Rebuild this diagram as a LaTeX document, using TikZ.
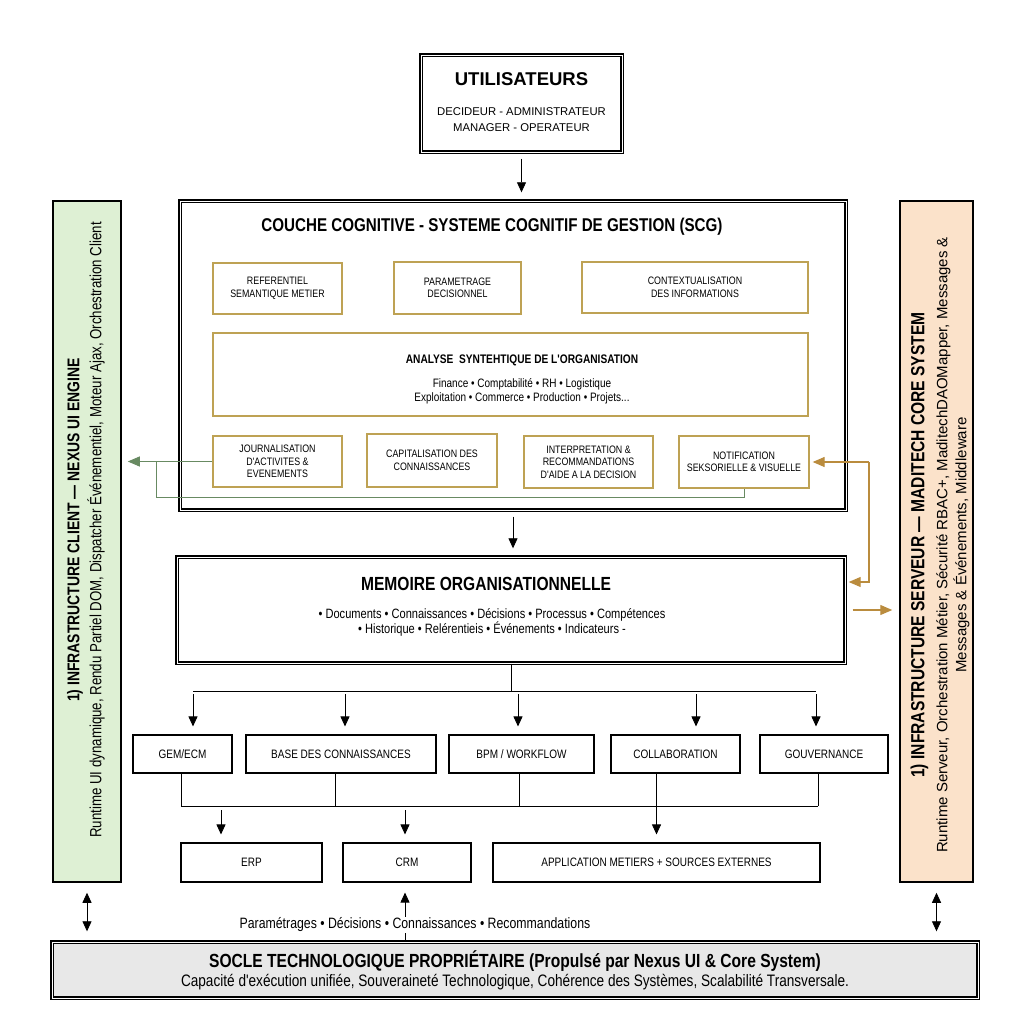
\documentclass[tikz,border=0pt]{standalone}
\usepackage{fontspec}
\setmainfont{Liberation Sans}
\newfontfamily\condfont{Liberation Sans}[FakeStretch=0.82]
\usetikzlibrary{arrows.meta, positioning, calc}
\definecolor{goldline}{RGB}{190,162,84}
\definecolor{greenline}{RGB}{104,138,98}
\definecolor{brownline}{RGB}{186,140,62}
\definecolor{clientfill}{RGB}{222,240,212}
\definecolor{serverfill}{RGB}{251,226,202}
\definecolor{soclefill}{RGB}{232,232,232}
\newcommand{\fsz}[2]{\fontsize{#1}{#2}\selectfont}

\begin{document}
\begin{tikzpicture}[x=1pt,y=-1pt]
		\tikzstyle{heavy} = [rectangle, draw=black, line width=1.4pt, double, double distance=0.9pt]
		\tikzstyle{goldbox} = [rectangle, draw=goldline, line width=1.3pt, align=center, font=\condfont\fsz{10.8}{12.5}]
		\tikzstyle{rowbox} = [rectangle, draw=black, line width=1.1pt, align=center, font=\condfont\fsz{12.2}{14}]
		\tikzstyle{bar} = [rectangle, draw=black, line width=1.5pt]
		\tikzstyle{arrow} = [line width=0.8pt, -{Triangle[width=9pt,length=10pt]}, shorten >=8pt]
		\tikzstyle{dblarrow} = [line width=0.8pt, {Triangle[width=9pt,length=10pt]}-{Triangle[width=9pt,length=10pt]}, shorten >=10pt, shorten <=10pt]
		\tikzstyle{garrow} = [greenline, line width=1pt, -{Triangle[width=10pt,length=12pt]}]
		\tikzstyle{gline} = [greenline, line width=1pt]
		\tikzstyle{oarrow} = [brownline, line width=1.1pt, -{Triangle[width=10pt,length=12pt]}]
		
		\useasboundingbox (0,0) rectangle (1024,1024);
		
		% users
		\node (users) [heavy, minimum width=201pt, minimum height=97pt] at (521.5,103.5) {};
		\node (userstitle) [font=\bfseries\fsz{18.5}{21}] at (521.5,79) {UTILISATEURS};
		\node (userstext) [align=center, font=\fsz{11.3}{16}] at (521.5,120) {DECIDEUR - ADMINISTRATEUR\\MANAGER - OPERATEUR};
		
		% couche cognitive
		\node (cog) [heavy, minimum width=666pt, minimum height=309pt] at (513,355.5) {};
		\node (cogtitle) [font=\condfont\bfseries\fsz{18.5}{21}] at (492,227) {COUCHE COGNITIVE - SYSTEME COGNITIF DE GESTION (SCG)};
		\node (ref) [goldbox, minimum width=129pt, minimum height=51pt] at (277.5,288.5) {REFERENTIEL\\SEMANTIQUE METIER};
		\node (param) [goldbox, minimum width=127pt, minimum height=52pt] at (457.5,288) {PARAMETRAGE\\DECISIONNEL};
		\node (ctx) [goldbox, minimum width=226pt, minimum height=51pt] at (695,287.5) {CONTEXTUALISATION\\DES INFORMATIONS};
		\node (analyse) [goldbox, minimum width=595pt, minimum height=83pt] at (510.5,374.5) {};
		\node (analysetitle) [font=\condfont\bfseries\fsz{12.4}{14}] at (522,360) {ANALYSE\ \ SYNTEHTIQUE DE L'ORGANISATION};
		\node (analysetext) [align=center, font=\condfont\fsz{12.2}{13.5}] at (522,391.5) {Finance • Comptabilité • RH • Logistique\\Exploitation • Commerce • Production • Projets...};
		\node (journ) [goldbox, minimum width=129pt, minimum height=51pt] at (277.5,461.5) {JOURNALISATION\\D'ACTIVITES \&\\EVENEMENTS};
		\node (capit) [goldbox, minimum width=130pt, minimum height=53pt] at (432,460.5) {CAPITALISATION DES\\CONNAISSANCES};
		\node (interp) [goldbox, minimum width=129pt, minimum height=52pt] at (588.5,462) {INTERPRETATION \&\\RECOMMANDATIONS\\D'AIDE A LA DECISION};
		\node (notif) [goldbox, minimum width=130pt, minimum height=52pt] at (744,462) {NOTIFICATION\\SEKSORIELLE \& VISUELLE};
		
		% memoire
		\node (memory) [heavy, minimum width=668pt, minimum height=106pt] at (511,610) {};
		\node (memtitle) [font=\condfont\bfseries\fsz{19}{22}] at (486,584) {MEMOIRE ORGANISATIONNELLE};
		\node (memtext) [align=center, font=\condfont\fsz{13.5}{15}] at (492,622) {• Documents • Connaissances • Décisions • Processus • Compétences\\• Historique • Relérentieis • Événements • Indicateurs -};
		
		% outils
		\node (gem) [rowbox, minimum width=99pt, minimum height=38pt] at (182.5,754) {GEM/ECM};
		\node (base) [rowbox, minimum width=190pt, minimum height=38pt] at (341,754) {BASE DES CONNAISSANCES};
		\node (bpm) [rowbox, minimum width=145pt, minimum height=38pt] at (521.5,754) {BPM / WORKFLOW};
		\node (collab) [rowbox, minimum width=129pt, minimum height=38pt] at (675.5,754) {COLLABORATION};
		\node (gouv) [rowbox, minimum width=128pt, minimum height=38pt] at (824,754) {GOUVERNANCE};
		
		\node (erp) [rowbox, minimum width=141pt, minimum height=39pt] at (251.5,862.5) {ERP};
		\node (crm) [rowbox, minimum width=128pt, minimum height=39pt] at (407,862.5) {CRM};
		\node (app) [rowbox, minimum width=327pt, minimum height=39pt] at (656.5,862.5) {APPLICATION METIERS + SOURCES EXTERNES};
		
		% socle
		\node (socle) [heavy, fill=soclefill, minimum width=926pt, minimum height=56pt] at (515,970) {};
		\node (socletitle) [font=\condfont\bfseries\fsz{19}{22}] at (515,961) {SOCLE TECHNOLOGIQUE PROPRIÉTAIRE (Propulsé par Nexus UI \& Core System)};
		\node (sockletext) [font=\condfont\fsz{16.6}{19}] at (515,982) {Capacité d'exécution unifiée, Souveraineté Technologique, Cohérence des Systèmes, Scalabilité Transversale.};
		
		% barres laterales
		\node (clientbar) [bar, fill=clientfill, minimum width=68pt, minimum height=681pt] at (87,541.5) {};
		\node (clienttext) [rotate=90, align=center, font=\condfont\fsz{16.2}{22}] at (86,530) {{\bfseries\fsz{17}{22}1) INFRASTRUCTURE CLIENT — NEXUS UI ENGINE}\\Runtime UI dynamique, Rendu Partiel DOM, Dispatcher Événementiel, Moteur Ajax, Orchestration Client};
		\node (serverbar) [bar, fill=serverfill, minimum width=73pt, minimum height=681pt] at (936.5,541.5) {};
		\node (servertext) [rotate=90, align=center, font=\fsz{15}{19}] at (940,545) {{\condfont\bfseries\fsz{19}{19}1) INFRASTRUCTURE SERVEUR — MADITECH CORE SYSTEM}\\[4pt]Runtime Serveur, Orchestration Métier, Sécurité RBAC+, MaditechDAOMapper, Messages \&\\Messages \& Événements, Middleware};
		
		% fleches principales
		\draw [arrow, shorten <=6pt] (users.south) -- (users.south |- cog.north);
		\draw [arrow, shorten <=6pt] (cog.south) -- (cog.south |- memory.north);
		
		\coordinate (bus) at (0,691);
		\draw [line width=0.8pt] (memory.south) -- (memory.south |- bus);
		\draw [line width=0.8pt] ($(gem.north |- bus)+(10.5,0)$) -- ($(gouv.north |- bus)+(-8,0)$);
		\foreach \n/\dx in {gem/10.5, base/4, bpm/-3.5, collab/20.5, gouv/-8}
			\draw [arrow, shorten <=3pt] ($(\n.north |- bus)+(\dx,0)$) -- ($(\n.north)+(\dx,0)$);
		
		\coordinate (bus2) at (0,806);
		\foreach \n/\dx in {gem/-1.5, base/-6, bpm/-2.5, gouv/-6}
			\draw [line width=0.8pt] ($(\n.south)+(\dx,0)$) -- ($(\n.south |- bus2)+(\dx,0)$);
		\draw [line width=0.8pt] ($(gem.south |- bus2)+(-1.5,0)$) -- ($(gouv.south |- bus2)+(-6,0)$);
		\draw [arrow] (collab.south -| app.north) -- (app.north);
		\draw [arrow, shorten <=4pt] ($(erp.north |- bus2)+(-30.5,0)$) -- ($(erp.north)+(-30.5,0)$);
		\draw [arrow, shorten <=4pt] ($(crm.north |- bus2)+(-2,0)$) -- ($(crm.north)+(-2,0)$);
		
		\draw [arrow, shorten >=10pt] ($(socle.north -| crm.south)+(-2,0)$) -- ($(crm.south)+(-2,0)$);
		\node (flowlabel) [fill=white, inner sep=1pt, font=\condfont\fsz{15}{17}] at (415,925) {Paramétrages • Décisions • Connaissances • Recommandations};
		
		\draw [dblarrow] (clientbar.south) -- (clientbar.south |- socle.north);
		\draw [dblarrow] (serverbar.south) -- (serverbar.south |- socle.north);
		
		% retours client (vert)
		\draw [garrow, shorten >=6pt] (journ.west) -- (journ.west -| clientbar.east);
		\coordinate (gturn) at (156,497);
		\draw [gline] (gturn |- journ.west) -- (gturn) -| (notif.south);
		
		% retours serveur (or)
		\coordinate (oturn) at (869,582);
		\draw [oarrow, shorten >=3pt] (oturn |- notif.east) -- (notif.east);
		\draw [oarrow, shorten >=3pt] (oturn |- notif.east) -- (oturn) -- (oturn -| memory.east);
		\draw [oarrow, shorten <=7pt, shorten >=7pt] (memory.east) -- (memory.east -| serverbar.west);
\end{tikzpicture}
\end{document}
